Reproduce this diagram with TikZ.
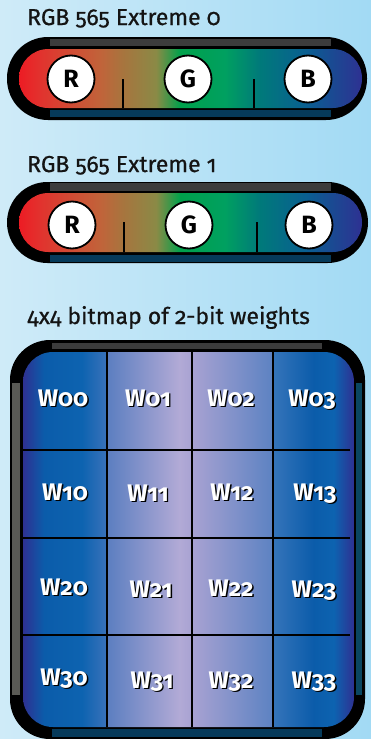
\documentclass[tikz,border=0pt]{standalone}
\usepackage{fontspec}
\setmainfont[Numbers=OldStyle]{Fira Sans}
\newfontfamily\headfont[Numbers=OldStyle, FakeBold=0.7]{Fira Sans}

% palette
\definecolor{bgL}{HTML}{CFEBF8}
\definecolor{bgR}{HTML}{A2DAF4}
\definecolor{bargray}{HTML}{3C3C3C}
\definecolor{barteal}{HTML}{063A5A}
\definecolor{sidegray}{HTML}{5A5A55}
\definecolor{sideteal}{HTML}{0A4660}
\definecolor{titlek}{HTML}{141414}

\definecolor{pA}{HTML}{ED1C24}
\definecolor{pB}{HTML}{E2322E}
\definecolor{pC}{HTML}{C0643A}
\definecolor{pD}{HTML}{A8743E}
\definecolor{pE}{HTML}{8A8A46}
\definecolor{pF}{HTML}{00A14B}
\definecolor{pG}{HTML}{00A060}
\definecolor{pH}{HTML}{007A7A}
\definecolor{pI}{HTML}{0A5E92}
\definecolor{pJ}{HTML}{2E3192}

\definecolor{cDeep}{HTML}{2E3192}
\definecolor{cBlue}{HTML}{0B5CAA}
\definecolor{cBlue2}{HTML}{0D63B0}
\definecolor{cBlue3}{HTML}{3A72BA}
\definecolor{cMid}{HTML}{5B7EC0}
\definecolor{cLav}{HTML}{B2AAD6}
\definecolor{cLav2}{HTML}{A8A2D2}
\definecolor{cMid2}{HTML}{5C82C2}
\definecolor{cBlue4}{HTML}{3574BA}

% TikZ maps a path's extent onto 25bp..75bp of a shading
% colour band of a 565 endpoint
\pgfdeclarehorizontalshading{rgbband}{100bp}{color(0bp)=(pA); color(25bp)=(pA);
  color(28bp)=(pB); color(37bp)=(pC); color(40bp)=(pD); color(45bp)=(pE);
  color(48.5bp)=(pF); color(55bp)=(pG); color(60bp)=(pH); color(67bp)=(pI);
  color(75bp)=(pJ); color(100bp)=(pJ)}
% weight columns
\pgfdeclarehorizontalshading{colA}{100bp}{color(0bp)=(cDeep); color(25bp)=(cDeep);
  color(37.5bp)=(cBlue); color(60bp)=(cBlue2); color(75bp)=(cBlue3); color(100bp)=(cBlue3)}
\pgfdeclarehorizontalshading{colB}{100bp}{color(0bp)=(cMid); color(25bp)=(cMid);
  color(67.5bp)=(cLav); color(75bp)=(cLav2); color(100bp)=(cLav2)}
\pgfdeclarehorizontalshading{colC}{100bp}{color(0bp)=(cLav2); color(25bp)=(cLav2);
  color(75bp)=(cMid2); color(100bp)=(cMid2)}
\pgfdeclarehorizontalshading{colD}{100bp}{color(0bp)=(cBlue4); color(25bp)=(cBlue4);
  color(50bp)=(cBlue); color(62.5bp)=(cBlue2); color(75bp)=(cDeep); color(100bp)=(cDeep)}

\tikzset{
  heading/.style={anchor=base west, inner sep=0pt, text=titlek,
    font=\headfont\fontsize{23}{25}\selectfont},
  chan/.style={circle, draw=black, line width=1.8pt, fill=white, minimum size=47pt,
    inner sep=0pt, font=\bfseries\fontsize{25}{26}\selectfont},
  tick/.style={line width=1.6pt},
  grid/.style={line width=1.5pt},
  wtext/.style={anchor=base, inner sep=0pt, text=white,
    font=\bfseries\fontsize{24}{26}\selectfont},
}

% weight text with a black drop shadow behind it
\newcommand{\shadowed}[1]{%
  \makebox[0pt][l]{\hspace{1.4pt}\raisebox{-1.9pt}{\textcolor{black}{#1}}}#1}
\newcommand{\wlabel}[4]{\node[wtext] (#1) at (#2,#3) {\shadowed{#4}};}

\begin{document}
\begin{tikzpicture}[x=1pt,y=-1pt]
\useasboundingbox (0,0) rectangle (371,739);
\shade[left color=bgL, right color=bgR] (0,0) rectangle (371,739);

% ---- endpoint 0 ----
\node[heading] (title0) at (27,25) {RGB 565 Extreme 0};
\fill[black, rounded corners=41pt] (7,37) rectangle (367,120);
\fill[bargray] (50,39) rectangle (331,46);
\fill[barteal] (50,110) rectangle (331,117);
\shade[shading=rgbband, rounded corners=29.4pt] (19,49) rectangle (362,108);
\draw[tick] (123,79) -- (123,108);
\draw[tick] (254,79) -- (254,108);
\node[chan] (r0) at (71,79) {R};
\node[chan] (g0) at (188,79) {G};
\node[chan] (b0) at (308,79) {B};

% ---- endpoint 1 ----
\node[heading] (title1) at (27,172) {RGB 565 Extreme 1};
\fill[black, rounded corners=40.5pt] (7,182) rectangle (368,263);
\fill[bargray] (50,183) rectangle (331,191);
\fill[barteal] (50,255) rectangle (331,262);
\shade[shading=rgbband, rounded corners=29.4pt] (19,193) rectangle (362,252);
\draw[tick] (124,222) -- (124,252);
\draw[tick] (257,222) -- (257,252);
\node[chan] (r1) at (72,225) {R};
\node[chan] (g1) at (189,225) {G};
\node[chan] (b1) at (309,225) {B};

% ---- 4x4 weight bitmap ----
\node[heading] (title2) at (27,324) {4x4 bitmap of 2-bit weights};
\fill[black, rounded corners=40pt] (10,340) rectangle (365,739);
\fill[bargray] (52,343) rectangle (322,349);
\fill[barteal] (52,729) rectangle (322,737);
\fill[sidegray] (12,383) rectangle (20,695);
\fill[sideteal] (356,383) rectangle (362,695);
\begin{scope}
  \clip[rounded corners=30pt] (23,352) rectangle (354,727);
  \shade[shading=colA] (23,352) rectangle (107,727);
  \shade[shading=colB] (107,352) rectangle (192,727);
  \shade[shading=colC] (192,352) rectangle (273,727);
  \shade[shading=colD] (273,352) rectangle (354,727);
\end{scope}
\foreach \gx in {107,192,273} \draw[grid] (\gx,352) -- (\gx,727);
\foreach \gy in {450,538,635} \draw[grid] (23,\gy) -- (350,\gy);

\wlabel{w00}{63}{406}{W00}
\wlabel{w01}{148}{406}{W01}
\wlabel{w02}{231}{406}{W02}
\wlabel{w03}{312}{406}{W03}
\wlabel{w10}{65}{500}{W10}
\wlabel{w11}{148}{501}{W11}
\wlabel{w12}{232}{500}{W12}
\wlabel{w13}{315}{500}{W13}
\wlabel{w20}{64}{595}{W20}
\wlabel{w21}{151}{597}{W21}
\wlabel{w22}{231}{596}{W22}
\wlabel{w23}{314}{597}{W23}
\wlabel{w30}{64}{685}{W30}
\wlabel{w31}{152}{688}{W31}
\wlabel{w32}{231}{688}{W32}
\wlabel{w33}{314}{688}{W33}
\end{tikzpicture}
\end{document}
